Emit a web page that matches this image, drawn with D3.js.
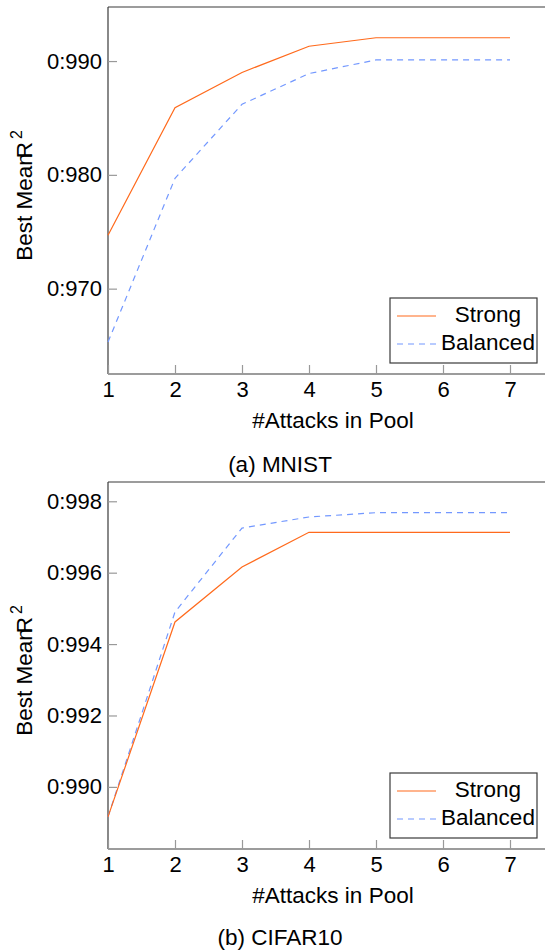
<!DOCTYPE html>
<html>
<head>
<meta charset="utf-8">
<script src="https://cdn.jsdelivr.net/npm/d3@7"></script>
<style>
  html, body { margin: 0; padding: 0; background: #fff; }
  svg { display: block; font-family: "Liberation Sans", Arial, sans-serif; }
</style>
</head>
<body>
<svg id="chart" width="545" height="950"></svg>
<script>
// ---- data ----
const attacks = [1, 2, 3, 4, 5, 6, 7];
const seriesNames = ["Strong", "Balanced"];
const mnistStrong   = [0.9747, 0.9859, 0.9890, 0.9913, 0.99205, 0.99205, 0.99205];
const mnistBalanced = [0.9653, 0.9797, 0.9862, 0.9889, 0.9901, 0.9901, 0.9901];
const cifarStrong   = [0.98916, 0.99462, 0.99616, 0.99713, 0.99713, 0.99713, 0.99713];
const cifarBalanced = [0.98916, 0.99490, 0.99725, 0.99756, 0.99768, 0.99768, 0.99768];
const mnistTicks = [0.970, 0.980, 0.990];
const cifarTicks = [0.990, 0.992, 0.994, 0.996, 0.998];
const xLabel = "#Attacks in Pool";
const captions = ["(a) MNIST", "(b) CIFAR10"];

const colors = { Strong: "#ff6a1c", Balanced: "#7398ff" };
const dashes = { Strong: null, Balanced: "6,5" };

const svg = d3.select("#chart");
const FS = 22.5;
const TFS = 22;
const fmt = v => d3.format(".3f")(v).replace(".", ":");

function panel(cfg) {
  const { top, bottom, yDomain, yTicks, strong, balanced, caption, captionY } = cfg;
  const left = 108;
  const x = d3.scaleLinear().domain([1, 7.75]).range([left, left + 6.75 * 67]);
  const y = d3.scaleLinear().domain(yDomain).range([bottom, top]);
  const g = svg.append("g");

  // frame: left, top, bottom
  g.append("line").attr("x1", left).attr("x2", 560).attr("y1", top).attr("y2", top)
    .attr("stroke", "#3a3a3a").attr("stroke-width", 1.2);
  g.append("line").attr("x1", left).attr("x2", 560).attr("y1", bottom).attr("y2", bottom)
    .attr("stroke", "#3a3a3a").attr("stroke-width", 1.2);
  g.append("line").attr("x1", left).attr("x2", left).attr("y1", top).attr("y2", bottom)
    .attr("stroke", "#3a3a3a").attr("stroke-width", 1.2);

  // y ticks (inward)
  const yAxis = d3.axisLeft(y).tickValues(yTicks).tickSize(-9).tickPadding(15).tickFormat(fmt);
  const ya = g.append("g").attr("transform", `translate(${left},0)`).call(yAxis);
  ya.select(".domain").remove();
  ya.selectAll(".tick line").attr("stroke", "#999").attr("stroke-width", 1.2);
  ya.selectAll(".tick text").attr("font-size", TFS).attr("fill", "#000")
    .attr("font-family", "Liberation Sans, Arial, sans-serif").attr("x", -6);

  // x ticks (inward)
  const xAxis = d3.axisBottom(x).tickValues(attacks).tickSize(-9).tickPadding(0).tickFormat(d3.format("d"));
  const xa = g.append("g").attr("transform", `translate(0,${bottom})`).call(xAxis);
  xa.select(".domain").remove();
  xa.selectAll(".tick line").attr("stroke", "#999").attr("stroke-width", 1.2);
  xa.selectAll(".tick text").attr("font-size", TFS).attr("fill", "#000")
    .attr("font-family", "Liberation Sans, Arial, sans-serif").attr("y", 23).attr("dy", 0);

  // lines
  const line = d3.line().x((d, i) => x(attacks[i])).y(d => y(d));
  [["Balanced", balanced], ["Strong", strong]].forEach(([name, vals]) => {
    g.append("path").datum(vals).attr("d", line).attr("fill", "none")
      .attr("stroke", colors[name]).attr("stroke-width", 1.2)
      .attr("stroke-dasharray", dashes[name]);
  });

  // y label
  const yl = g.append("text")
    .attr("transform", `translate(32,${(top + bottom) / 2 + 5}) rotate(-90)`)
    .attr("text-anchor", "middle").attr("font-size", FS).attr("fill", "#000");
  yl.append("tspan").text("Best Mean");
  yl.append("tspan").attr("dx", -5).text("R");
  yl.append("tspan").attr("dx", 3).attr("dy", -10).attr("font-size", 16).text("2");

  // x label
  g.append("text").attr("x", 333).attr("y", bottom + 54)
    .attr("text-anchor", "middle").attr("font-size", FS).attr("fill", "#000").text(xLabel);

  // caption
  g.append("text").attr("x", 280).attr("y", captionY)
    .attr("text-anchor", "middle").attr("font-size", FS).attr("fill", "#000").text(caption);

  // legend
  const lx = 390, ly = bottom - 76;
  const lg = g.append("g");
  lg.append("rect").attr("x", lx).attr("y", ly).attr("width", 147).attr("height", 65)
    .attr("fill", "#fff").attr("stroke", "#3a3a3a").attr("stroke-width", 1.2);
  seriesNames.forEach((name, i) => {
    const yy = ly + 18 + i * 28;
    lg.append("line").attr("x1", lx + 7).attr("x2", lx + 46).attr("y1", yy).attr("y2", yy)
      .attr("stroke", colors[name]).attr("stroke-width", 1.2).attr("stroke-dasharray", dashes[name]);
    lg.append("text").attr("x", lx + 98).attr("y", yy + 6).attr("text-anchor", "middle")
      .attr("font-size", FS).attr("fill", "#000").text(name);
  });
}

panel({ top: 7, bottom: 374, yDomain: [0.9625, 0.99475], yTicks: mnistTicks,
        strong: mnistStrong, balanced: mnistBalanced, caption: captions[0], captionY: 472 });
panel({ top: 482, bottom: 849, yDomain: [0.98826, 0.99854], yTicks: cifarTicks,
        strong: cifarStrong, balanced: cifarBalanced, caption: captions[1], captionY: 945 });
</script>
</body>
</html>
